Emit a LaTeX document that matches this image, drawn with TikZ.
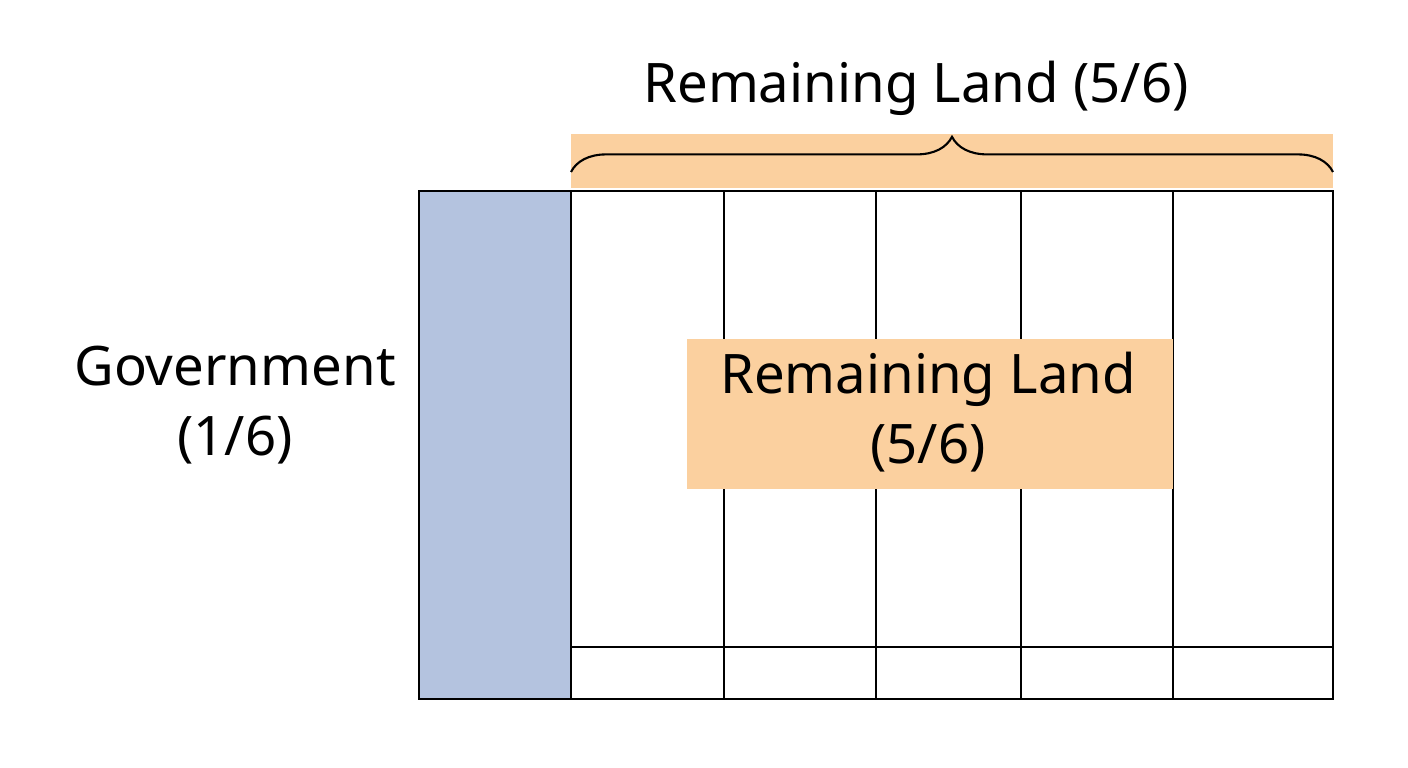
\documentclass[tikz,border=0pt]{standalone}
\usepackage{fontspec}
\setmainfont{Noto Sans}
\usetikzlibrary{decorations.pathreplacing}
\definecolor{govblue}{HTML}{B4C3DF}
\definecolor{landorange}{HTML}{FBD09F}
\tikzset{
  lbl/.style={font=\fontsize{15.5}{20}\selectfont,align=center},
  grid/.style={draw=black,line width=0.7pt}
}
\begin{document}
\begin{tikzpicture}[x=0.01cm,y=-0.01cm]
\useasboundingbox (0,0) rectangle (1408,768);
\fill[landorange] (571,134) rectangle (1333,188);
\fill[govblue] (419,191) rectangle (571,699);
\draw[grid] (419,191) rectangle (1333,699);
\foreach \x in {571,724,876,1021,1173}
  \draw[grid] (\x,191) -- (\x,699);
\draw[grid] (571,647) -- (1333,647);
\fill[landorange] (687,339) rectangle (1173,489);
\node[lbl] (mid) at (928,412) {Remaining Land\\(5/6)};
\node[lbl] (gov) at (235,405) {Government\\(1/6)};
\coordinate (bl) at (571,172);
\coordinate (br) at (1333,172);
\draw[line width=0.6pt,decorate,decoration={brace,amplitude=10pt}] (bl) -- (br);
\node[lbl] (top) at (916,88) {Remaining Land (5/6)};
\end{tikzpicture}
\end{document}
